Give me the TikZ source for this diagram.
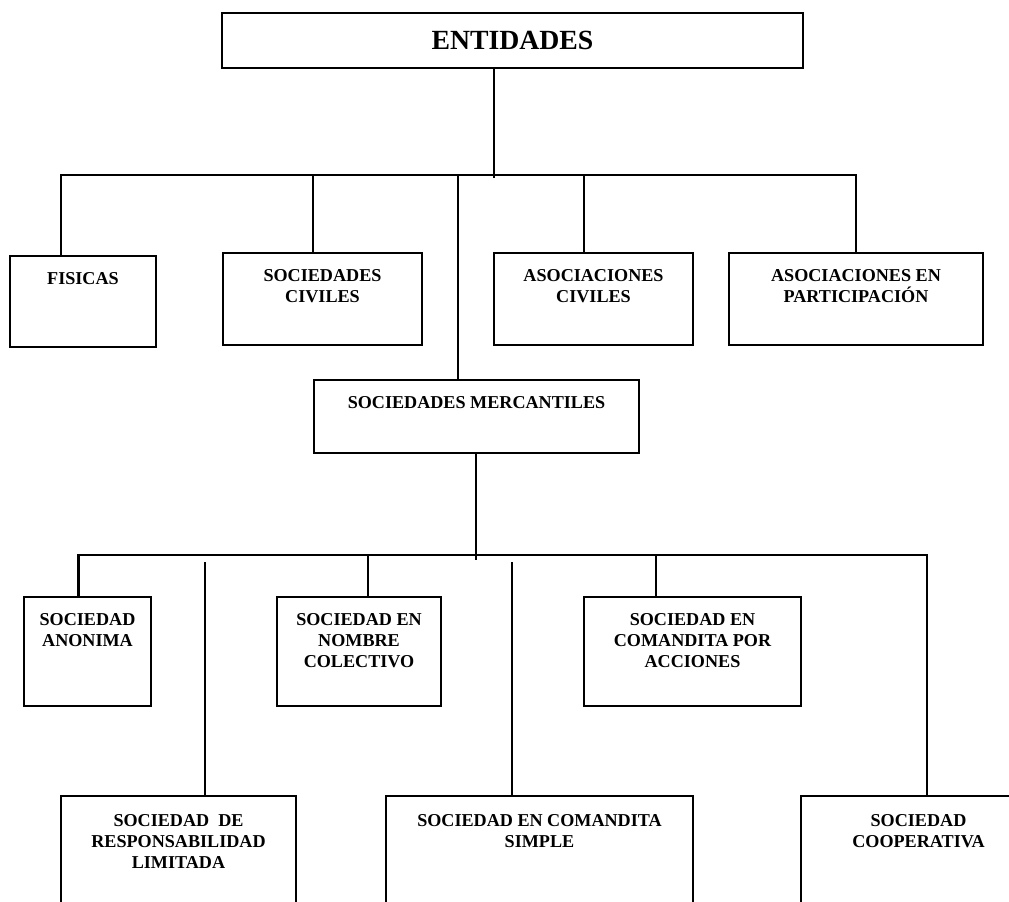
\documentclass[tikz,border=0pt]{standalone}
\usepackage{fontspec}
\setmainfont{Liberation Serif}
\def\px{0.75pt}

\begin{document}
\begin{tikzpicture}[x=0.75pt,y=-0.75pt,line width=1.8pt,
  box/.style={draw, line width=2pt, inner sep=0pt},
  lab/.style={anchor=north, align=center, inner sep=0pt, yshift=-17*\px,
    font=\fontsize{13.6}{15.5}\selectfont\bfseries}]

\useasboundingbox (0,0) rectangle (1009,901);
\clip (0,0) rectangle (1009,901);

\node[box, minimum width=581*\px, minimum height=55*\px, font=\fontsize{20.8}{24}\selectfont\bfseries] (ent) at (512.5,40.5) {ENTIDADES};

\node[box, minimum width=146*\px, minimum height=91*\px, label={[lab]north:FISICAS}] (fis) at (83,301.5) {};
\node[box, minimum width=199*\px, minimum height=92*\px, label={[lab]north:{SOCIEDADES\\CIVILES}}] (sciv) at (322.5,299) {};
\node[box, minimum width=199*\px, minimum height=92*\px, label={[lab]north:{ASOCIACIONES\\CIVILES}}] (aciv) at (593.5,299) {};
\node[box, minimum width=254*\px, minimum height=92*\px, label={[lab]north:{ASOCIACIONES EN\\PARTICIPACIÓN}}] (apart) at (856,299) {};
\node[box, minimum width=325*\px, minimum height=73*\px, label={[lab]north:SOCIEDADES MERCANTILES}] (merc) at (476.5,416.5) {};

\node[box, minimum width=127*\px, minimum height=109*\px, label={[lab]north:{SOCIEDAD\\ANONIMA}}] (sanon) at (87.5,651.5) {};
\node[box, minimum width=164*\px, minimum height=109*\px, label={[lab]north:{SOCIEDAD EN\\NOMBRE\\COLECTIVO}}] (snc) at (359,651.5) {};
\node[box, minimum width=217*\px, minimum height=109*\px, label={[lab]north:{SOCIEDAD EN\\COMANDITA POR\\ACCIONES}}] (scpa) at (692.5,651.5) {};

\node[box, minimum width=235*\px, minimum height=164*\px, label={[lab, yshift=-2*\px]north:{SOCIEDAD~ DE\\RESPONSABILIDAD\\LIMITADA}}] (srl) at (178.5,878) {};
\node[box, minimum width=307*\px, minimum height=164*\px, label={[lab, yshift=-2*\px]north:{SOCIEDAD EN COMANDITA\\SIMPLE}}] (scs) at (539.5,878) {};
\node[box, minimum width=235*\px, minimum height=164*\px, label={[lab, yshift=-2*\px]north:{SOCIEDAD\\COOPERATIVA}}] (scoop) at (918.5,878) {};

\coordinate (s1) at (494,178);
\coordinate (j1) at (61,175);
\coordinate (j2) at (313,175);
\coordinate (j3) at (458,175);
\coordinate (j4) at (584,175);
\coordinate (j5) at (856,175);

\draw (ent.south -| s1) -- (s1);
\draw (fis.north -| j1) -- (j1) -- (j5) -- (apart.north -| j5);
\draw (j2) -- (sciv.north -| j2);
\draw (j3) -- (merc.north -| j3);
\draw (j4) -- (aciv.north -| j4);

\coordinate (s2) at (476,560);
\coordinate (k1) at (78.5,555);
\coordinate (k2) at (368,555);
\coordinate (k3) at (656,555);
\coordinate (k4) at (927,555);
\coordinate (l1) at (205,562);
\coordinate (l2) at (512,562);

\draw (merc.south -| s2) -- (s2);
\draw (sanon.north -| k1) -- (k1) -- (k4) -- (scoop.north -| k4);
\draw (k2) -- (snc.north -| k2);
\draw (k3) -- (scpa.north -| k3);
\draw (l1) -- (srl.north -| l1);
\draw (l2) -- (scs.north -| l2);

\end{tikzpicture}
\end{document}
